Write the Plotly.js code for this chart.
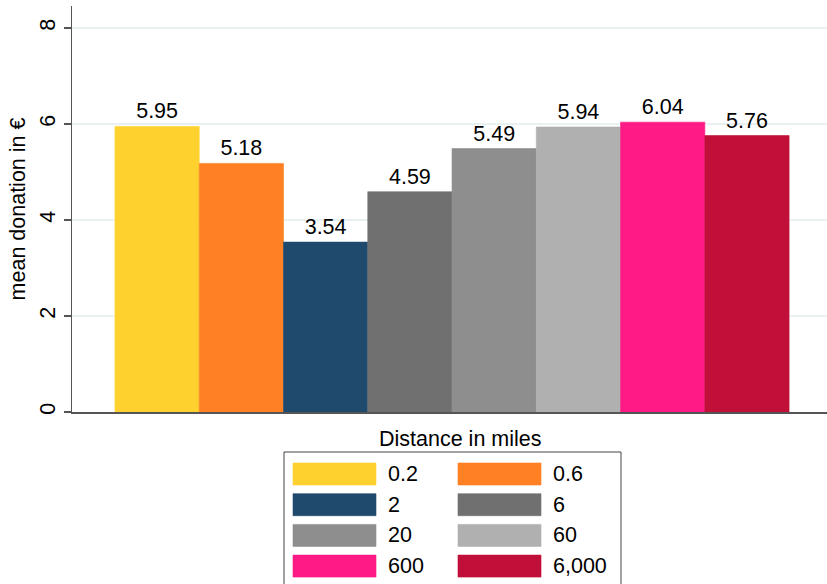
<!DOCTYPE html>
<html>
<head>
<meta charset="utf-8">
<script src="https://cdn.plot.ly/plotly-3.0.1.min.js"></script>
<style>html,body{margin:0;padding:0;background:#fff;}#chart{width:827px;height:584px;}</style>
</head>
<body>
<div id="chart"></div>
<script>
const distanceLabels = ['0.2', '0.6', '2', '6', '20', '60', '600', '6,000'];
const meanDonation = [5.95, 5.18, 3.54, 4.59, 5.49, 5.94, 6.04, 5.76];
const barColors = ['#FFD12F', '#FF8124', '#1F4A6E', '#707070', '#8E8E8E', '#B0B0B0', '#FF1A85', '#C00F38'];
const yTicks = [0, 2, 4, 6, 8];

const W = 827, H = 584;
const M = {l: 72, r: 0, t: 6, b: 172};
const pw = W - M.l - M.r, ph = H - M.t - M.b;
const px = x => (x - M.l) / pw;
const py = y => (H - M.b - y) / ph;
const FONT = 'Liberation Sans, Arial, Helvetica, sans-serif';
const FS = 21.5;

const traces = distanceLabels.map((lab, i) => ({
  type: 'bar',
  name: lab,
  x: [i],
  y: [meanDonation[i]],
  width: [1],
  marker: {color: barColors[i], line: {width: 0.6, color: barColors[i]}},
  text: [meanDonation[i].toFixed(2)],
  textposition: 'outside',
  cliponaxis: false,
  textfont: {family: FONT, size: FS, color: '#000'},
  hoverinfo: 'x+y',
  showlegend: false
}));

// custom legend built from the label / colour arrays
const shapes = [];
const annotations = [];
const boxL = 284, boxR = 621, boxT = 452, boxB = 600;
shapes.push({type: 'rect', xref: 'paper', yref: 'paper',
  x0: px(boxL), x1: px(boxR), y0: py(boxB), y1: py(boxT),
  line: {color: '#444', width: 1}, fillcolor: 'rgba(0,0,0,0)'});
annotations.push({xref: 'paper', yref: 'paper', x: px(460), y: py(439),
  text: 'Distance in miles', showarrow: false, xanchor: 'center', yanchor: 'middle',
  font: {family: FONT, size: FS, color: '#000'}});
const colX = [293, 458], swW = 83, rowTop = 463, rowPitch = 30.7, swH = 22;
distanceLabels.forEach((lab, i) => {
  const c = i % 2, r = Math.floor(i / 2);
  const x0 = colX[c], y0 = rowTop + r * rowPitch;
  shapes.push({type: 'rect', xref: 'paper', yref: 'paper',
    x0: px(x0), x1: px(x0 + swW), y0: py(y0 + swH), y1: py(y0),
    line: {color: barColors[i], width: 0.6}, fillcolor: barColors[i]});
  annotations.push({xref: 'paper', yref: 'paper', x: px(x0 + swW + 10), y: py(y0 + swH / 2),
    text: lab, showarrow: false, xanchor: 'left', yanchor: 'middle',
    font: {family: FONT, size: FS, color: '#000'}});
});

const layout = {
  width: W, height: H,
  margin: M,
  paper_bgcolor: '#fff', plot_bgcolor: '#fff',
  font: {family: FONT, color: '#000'},
  bargap: 0,
  showlegend: false,
  xaxis: {
    range: [-1.01, 7.95], showgrid: false, zeroline: false,
    showticklabels: false, ticks: '', showline: true, linecolor: '#555', linewidth: 1.5,
    fixedrange: true
  },
  yaxis: {
    range: [0, 8.46], tickvals: yTicks, ticktext: yTicks.map(String),
    tickangle: -90, ticks: 'outside', ticklen: 7, tickcolor: '#555', tickwidth: 1.2,
    tickfont: {family: FONT, size: FS, color: '#000'},
    showline: true, linecolor: '#555', linewidth: 1.5,
    gridcolor: '#E8F0F2', gridwidth: 1.2, zeroline: false,
    title: {text: 'mean donation in €', font: {family: FONT, size: FS, color: '#000'}, standoff: 4},
    fixedrange: true
  },
  shapes: shapes,
  annotations: annotations
};

Plotly.newPlot('chart', traces, layout, {displayModeBar: false, staticPlot: true});
</script>
</body>
</html>
